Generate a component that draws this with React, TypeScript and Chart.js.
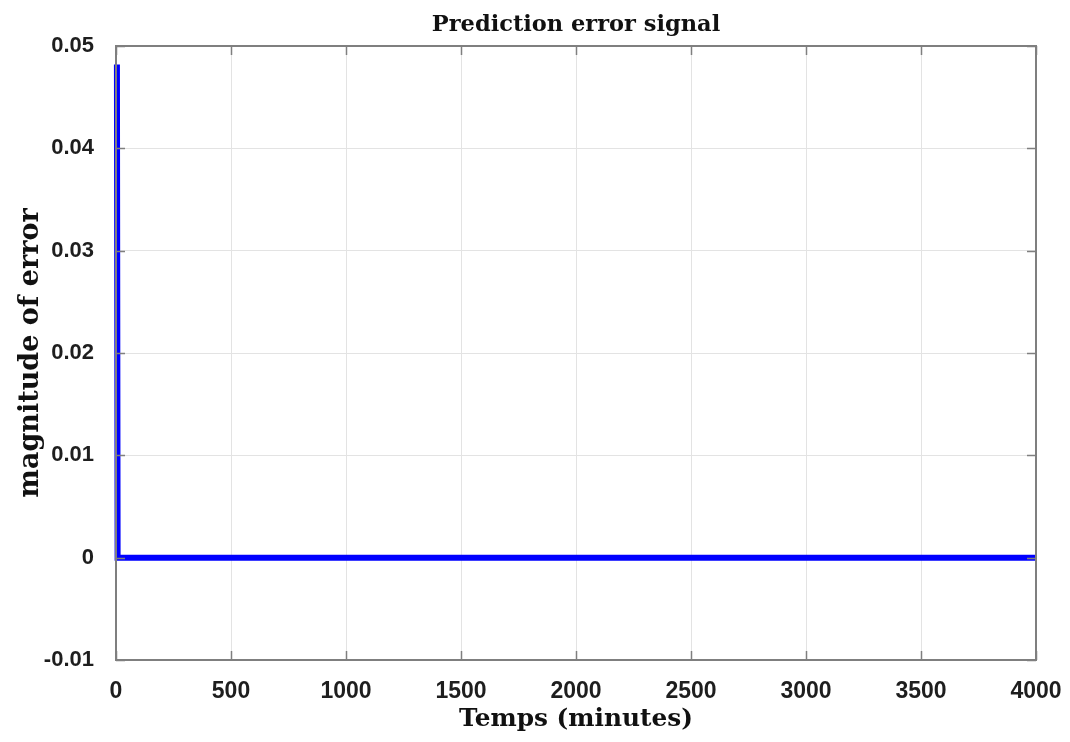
import React, { useEffect, useRef } from "react";
import { Chart, registerables } from "chart.js";

Chart.register(...registerables);

const timeMinutes = [4, 7, 20, 100, 500, 1000, 2000, 3000, 4000];
const errorValues = [0.0482, 0.0, 0.0, 0.0, 0.0, 0.0, 0.0, 0.0, 0.0];
const xTicks = [0, 500, 1000, 1500, 2000, 2500, 3000, 3500, 4000];
const yTicks = [-0.01, 0, 0.01, 0.02, 0.03, 0.04, 0.05];

const TITLE = "Prediction error signal";
const X_LABEL = "Temps (minutes)";
const Y_LABEL = "magnitude of error";

const SERIF = "'DejaVu Serif', 'Liberation Serif', serif";

const boxPlugin = {
  id: "matlabBox",
  afterDatasetsDraw(chart: any) {
    const { ctx, chartArea, scales } = chart;
    const { left, right, top, bottom } = chartArea;
    ctx.save();
    ctx.strokeStyle = "#7f7f7f";
    ctx.lineWidth = 1.5;
    const len = 9;
    ctx.beginPath();
    for (const v of xTicks) {
      const px = Math.round(scales.x.getPixelForValue(v)) + 0.5;
      ctx.moveTo(px, bottom);
      ctx.lineTo(px, bottom - len);
      ctx.moveTo(px, top);
      ctx.lineTo(px, top + len);
    }
    for (const v of yTicks) {
      const py = Math.round(scales.y.getPixelForValue(v)) + 0.5;
      ctx.moveTo(left, py);
      ctx.lineTo(left + len, py);
      ctx.moveTo(right, py);
      ctx.lineTo(right - len, py);
    }
    ctx.stroke();
    ctx.lineWidth = 2;
    ctx.strokeRect(left, top, right - left, bottom - top);
    ctx.restore();
  },
  afterDraw(chart: any) {
    const { ctx, chartArea } = chart;
    ctx.save();
    ctx.fillStyle = "#111";
    ctx.font = "bold 22.5px " + SERIF;
    ctx.textAlign = "center";
    ctx.textBaseline = "middle";
    ctx.fillText(TITLE, (chartArea.left + chartArea.right) / 2, 25);
    ctx.restore();
  },
};

export default function App() {
  const ref = useRef<HTMLCanvasElement | null>(null);
  useEffect(() => {
    if (!ref.current) return;
    const sans = "'Liberation Sans', Arial, sans-serif";
    const chart = new Chart(ref.current, {
      type: "line",
      data: {
        datasets: [
          {
            data: timeMinutes.map((t, i) => ({ x: t, y: errorValues[i] })),
            borderColor: "#0000ff",
            borderWidth: 6,
            pointRadius: 0,
            tension: 0,
            fill: false,
            clip: false,
            borderJoinStyle: "miter",
          } as any,
        ],
      },
      options: {
        animation: false,
        responsive: false,
        maintainAspectRatio: false,
        layout: { padding: { left: 0, right: 34, top: 46, bottom: 0 } },
        plugins: {
          legend: { display: false },
          tooltip: { enabled: false },
          title: { display: false },
        },
        scales: {
          x: {
            type: "linear",
            min: 0,
            max: 4000,
            afterBuildTicks: (s: any) => {
              s.ticks = xTicks.map((v) => ({ value: v }));
            },
            afterFit: (s: any) => {
              s.height = 82;
              s.paddingLeft = 0;
              s.paddingRight = 0;
            },
            ticks: {
              color: "#1e1e1e",
              font: { family: sans, size: 23, weight: "bold" },
              padding: 18,
              maxRotation: 0,
              autoSkip: false,
              callback: (v: any) => String(v),
            },
            grid: { color: "#e3e3e3", lineWidth: 1, drawTicks: false },
            border: { display: false },
            title: {
              display: true,
              text: X_LABEL,
              color: "#111",
              font: { family: SERIF, size: 24.8, weight: "bold" },
              padding: { top: 8, bottom: 8 },
            },
          },
          y: {
            type: "linear",
            min: -0.01,
            max: 0.05,
            afterBuildTicks: (s: any) => {
              s.ticks = yTicks.map((v) => ({ value: v }));
            },
            afterFit: (s: any) => {
              s.width = 116;
              s.paddingTop = 0;
              s.paddingBottom = 0;
            },
            ticks: {
              color: "#1e1e1e",
              font: { family: sans, size: 22, weight: "bold" },
              padding: 22,
              autoSkip: false,
              callback: (v: any) => {
                const n = Math.round(Number(v) * 100) / 100;
                return n === 0 ? "0" : n.toFixed(2);
              },
            },
            grid: { color: "#e3e3e3", lineWidth: 1, drawTicks: false },
            border: { display: false },
            title: {
              display: true,
              text: Y_LABEL,
              color: "#111",
              font: { family: SERIF, size: 27, weight: "bold" },
              padding: { top: 15, bottom: 0 },
            },
          },
        },
      },
      plugins: [boxPlugin],
    });
    return () => chart.destroy();
  }, []);
  return (
    <div style={{ position: "fixed", left: 0, top: 0, width: 1070, height: 742, background: "#fff" }}>
      <canvas ref={ref} width={1070} height={742} style={{ width: 1070, height: 742 }} />
    </div>
  );
}
